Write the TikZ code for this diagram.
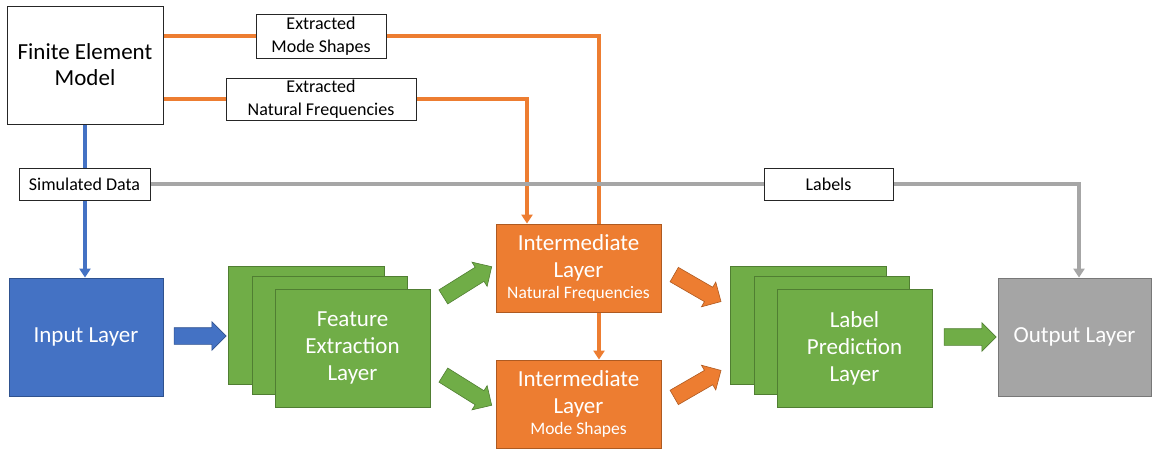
\documentclass[tikz,border=0pt]{standalone}
\usepackage{fontspec}
\setmainfont{Carlito}
\usetikzlibrary{shapes.arrows,arrows.meta,backgrounds}
\definecolor{fillBlue}{HTML}{4472C4}
\definecolor{edgeBlue}{HTML}{2F528F}
\definecolor{fillGreen}{HTML}{70AD47}
\definecolor{edgeGreen}{HTML}{507E32}
\definecolor{fillOrange}{HTML}{ED7D31}
\definecolor{edgeOrange}{HTML}{AE5A21}
\definecolor{fillGray}{HTML}{A5A5A5}
\definecolor{edgeGray}{HTML}{787878}
\definecolor{lineGray}{HTML}{A6A6A6}
\begin{document}
\begin{tikzpicture}[x=1pt,y=-1pt,
  box/.style={draw=black!85, fill=white, line width=0.8pt, align=center, inner sep=0pt, text=black},
  tag/.style={box, font=\fontsize{18}{23}\selectfont},
  layer/.style={align=center, text=white, inner sep=0pt, line width=0.8pt, font=\fontsize{23}{27}\selectfont},
  bluebox/.style={layer, fill=fillBlue, draw=edgeBlue},
  greenbox/.style={layer, fill=fillGreen, draw=edgeGreen},
  orangebox/.style={layer, fill=fillOrange, draw=edgeOrange},
  graybox/.style={layer, fill=fillGray, draw=edgeGray},
  sheet/.style={fill=fillGreen, draw=edgeGreen, line width=0.8pt},
  conn/.style={line width=3.2pt},
  tip/.style={-{Triangle[width=11pt,length=9pt]}},
  blockarrow/.style={single arrow, single arrow head extend=6pt, inner sep=0pt,
    line width=0.6pt, node contents={\rule{0pt}{16pt}}},
  bluearrow/.style={blockarrow, fill=fillBlue, draw=edgeBlue},
  greenarrow/.style={blockarrow, fill=fillGreen, draw=edgeGreen},
  orangearrow/.style={blockarrow, fill=fillOrange, draw=edgeOrange}
]
\useasboundingbox (0,0) rectangle (1152,450);

% source model and extracted quantities
\node[box, minimum width=156pt, minimum height=118pt,
      font=\fontsize{23}{26}\selectfont] (fem) at (85,65) {Finite Element\\Model};
\node[tag, minimum width=130pt, minimum height=44pt] (ems) at (321,36) {Extracted\\Mode Shapes};
\node[tag, minimum width=190pt, minimum height=42pt] (enf) at (321,99) {Extracted\\Natural Frequencies};
\node[tag, minimum width=131pt, minimum height=32pt] (sim) at (84.5,184) {Simulated Data};
\node[tag, minimum width=129pt, minimum height=32pt] (lab) at (828.5,184) {Labels};

% network layers
\node[bluebox, minimum width=154pt, minimum height=118pt] (inp) at (86,337) {Input Layer};

\path[sheet] (228,266) rectangle (384,384);
\path[sheet] (252,276) rectangle (407,394);
\node[greenbox, minimum width=155pt, minimum height=118pt] (fe) at (352.5,348) {Feature\\Extraction\\Layer};

\node[orangebox, minimum width=165pt, minimum height=88pt] (inf) at (578.5,268)
  {Intermediate\\Layer\\[-6pt]{\fontsize{17.5}{20}\selectfont Natural Frequencies}};
\node[orangebox, minimum width=165pt, minimum height=88pt] (ims) at (578.5,404)
  {Intermediate\\Layer\\[-6pt]{\fontsize{17.5}{20}\selectfont Mode Shapes}};

\path[sheet] (730,266) rectangle (886,384);
\path[sheet] (754,276) rectangle (909,394);
\node[greenbox, minimum width=155pt, minimum height=118pt] (lp) at (854.5,348) {Label\\Prediction\\Layer};

\node[graybox, minimum width=153pt, minimum height=118pt] (out) at (1074.5,337) {Output Layer};

% block arrows between layers
\node (b1) at (196,336) [bluearrow, minimum height=52pt];
\node (b2) at (464,284) [greenarrow, minimum height=57pt, rotate=32];
\node (b3) at (464,388) [greenarrow, minimum height=57pt, rotate=-32];
\node (b4) at (694,286) [orangearrow, minimum height=54pt, rotate=-30];
\node (b5) at (694,386) [orangearrow, minimum height=54pt, rotate=30];
\node (b6) at (966,337) [greenarrow, minimum height=52pt];

% data flow connectors
\begin{scope}[on background layer]
  \draw[conn, fillOrange] (fem.east |- ems.west) -- (ems.west);
  \draw[conn, fillOrange, tip] (ems.east) -| ([xshift=20.5pt]ims.north);
  \draw[conn, fillOrange] (fem.east |- enf.west) -- (enf.west);
  \draw[conn, fillOrange, tip] (enf.east) -| ([xshift=-51.5pt]inf.north);
  \draw[conn, fillBlue] (fem.south) -- (fem.south |- sim.north);
  \draw[conn, fillBlue, tip] (fem.south |- sim.south) -- (fem.south |- inp.north);
  \draw[conn, lineGray] (sim.east) -- (lab.west);
  \draw[conn, lineGray, tip] (lab.east) -| ([xshift=4.5pt]out.north);
\end{scope}
\end{tikzpicture}
\end{document}
